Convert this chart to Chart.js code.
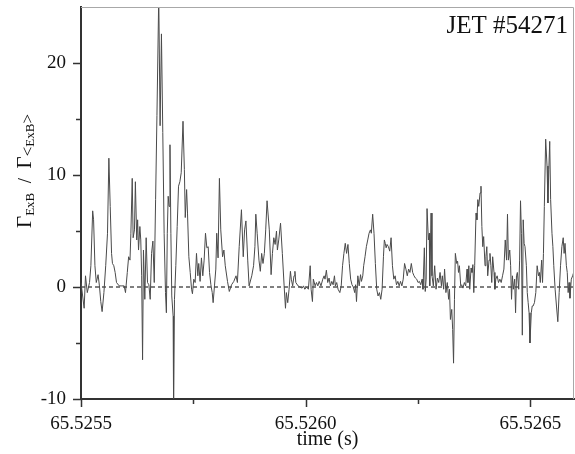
<!DOCTYPE html>
<html>
<head>
<meta charset="utf-8">
<title>JET #54271 flux ratio</title>
<script src="https://cdn.jsdelivr.net/npm/chart.js@4.4.1/dist/chart.umd.min.js"></script>
<style>
  html, body { margin: 0; padding: 0; background: #fff; }
  #wrap { width: 575px; height: 454px; }
</style>
</head>
<body>
<div id="wrap"><canvas id="flux" width="575" height="454"></canvas></div>
<script>
// time, as offset from 65.5255 s, in microseconds
const timeUs = [
  0, 7, 10, 14, 19, 22, 26, 28, 31, 34, 38, 41, 44, 47, 51, 55, 59, 62, 65, 68, 70, 73, 76, 79, 85,
  91, 96, 99, 103, 106, 109, 111, 114, 116, 119, 121, 124, 126, 128, 131, 133, 135, 137, 139, 142, 145, 148, 151, 154,
  157, 160, 163, 166, 169, 173, 176, 179, 182, 185, 188, 190, 192, 194, 196, 198, 200, 202, 205, 206, 208, 211, 214, 217,
  220, 223, 227, 230, 232, 235, 237, 240, 243, 246, 248, 251, 254, 257, 260, 262, 265, 268, 271, 274, 277, 280, 283, 286,
  289, 292, 294, 297, 300, 302, 305, 308, 311,
  315, 318, 321, 326, 330, 335, 340, 345, 348, 352, 357, 361, 364, 367, 371, 374, 380, 384, 387, 389, 392, 396, 399, 402,
  405, 408, 411, 414, 419, 423, 426, 429, 432, 435, 437, 440, 444, 448, 452, 455, 457, 460, 463, 466,
  468, 471, 474, 476, 478, 483, 487, 492, 495, 498, 502, 506, 510, 512, 515, 517, 521, 524, 527, 530, 534, 538, 541, 543,
  546, 549, 552, 555, 558, 561, 564, 566, 569, 572, 576, 579, 582, 585, 588, 591, 594, 597, 600, 603, 606, 609, 611, 613,
  616, 619, 622,
  624, 627, 629, 632, 635, 638, 641, 644, 646, 649, 652, 655, 658, 661, 664, 667, 670, 673, 675, 677, 679, 681, 684, 687,
  690, 693, 696, 699, 702, 705, 708, 711, 714, 717, 720, 723, 726, 729, 732, 735, 738, 741, 744, 747, 750, 753, 756, 759,
  761, 764, 766, 768, 770, 773, 775, 776, 779,
  781, 784, 787, 790, 793, 796, 799, 802, 804, 807, 809, 812, 815, 818, 820, 822, 825, 827, 829, 831, 833, 836, 838, 840,
  842, 845, 847, 850, 853, 856, 859, 861, 863, 865, 868, 870, 872, 874, 876, 879, 881, 883, 885, 888, 890, 892, 894, 896,
  899, 901, 903, 905, 908, 910, 912, 914, 916, 919, 921, 923, 926, 929, 932,
  935, 938, 941, 944, 947, 949, 951, 954, 956, 958, 960, 962, 965, 967, 969, 971, 974, 976, 978, 980, 982, 984, 986, 988,
  991, 993, 995, 997, 999, 1002, 1004, 1006, 1009, 1012, 1015, 1018, 1020, 1022, 1025, 1027, 1029, 1031, 1034, 1037, 1039,
  1041, 1043, 1045, 1048, 1050, 1052, 1055, 1058, 1061, 1064, 1067, 1070, 1073, 1075, 1077, 1080, 1082, 1084, 1086, 1088,
  1091, 1094, 1097
];

// Γ_ExB / Γ_<ExB> at each time above
const fluxRatio = [
  0.4, -1.9, 1.0, -0.5, 0.4, 1.9, 6.8, 6.0, 1.9, 0.4, 1.1, 0.1, -1.3, -2.2, -0.5, 1.9, 4.8, 11.5, 7.2, 3.0, 2.1, 1.9, 1.3, 0.4, 0.1,
  0.1, 0.1, -0.5, 1.3, 2.7, 2.4, 4.8, 9.7, 4.4, 5.1, 9.4, 4.2, 6.0, 3.3, 5.4, 4.2, 1.0, -6.5, 3.3, -1.1, 4.4, 0.4, 0.2, -1.1,
  3.0, 4.1, 0.4, 7.8, 15.3, 26, 14.4, 22.6, 13.8, 4.8, -0.5, -2.3, 4.8, 8.1, 7.2, 12.7, 4.8, -0.8, -2.6, -10.5, -1.1, 1.9, 5.4, 9.0,
  9.4, 10.2, 14.8, 10.5, 6.2, 8.7, 6.6, 2.7, 1.3, -0.2, -0.6, 0.7, 0.4, 3.0, 1.0, 2.1, 0.5, 2.6, 1.0, 2.4, 4.8, 3.5, 3.6, 1.3,
  0.2, -0.5, -1.4, 0.1, 1.6, 4.8, 2.6, 9.7, 5.1,
  2.7, 3.3, 1.9, 0.5, -0.4, 0.2, 0.5, 1.0, 0.4, 3.6, 6.9, 2.7, 5.1, 5.9, 2.4, 0.1, 1.0, 1.9, 3.6, 6.5, 4.8, 2.4, 1.4, 3.0,
  2.1, 3.0, 5.1, 7.7, 5.1, 1.1, 3.0, 4.4, 3.8, 5.0, 3.3, 4.2, 5.7, 3.0, 0.1, -1.9, -0.5, -1.4, -0.2, 1.4,
  0.7, 0.1, 1.0, 1.4, 0.4, 0.1, 0, -0.1, 0.1, -0.2, 0, -0.2, 1.9, -0.2, -1.3, 0.7, 0.1, 0.4, 0.1, 0.5, 0.1, 0.7, 1.0, 0.7,
  1.5, 0.4, 0.8, 0.1, 0.5, 0.2, 1.0, 0.1, 0.4, -0.2, -0.5, 0.1, 1.9, 3.0, 3.9, 3.0, 3.8, 2.1, 0.7, 0.2, 0, -0.5, 0.2, -1.3,
  1.0, 0.1, 1.1,
  0.5, 1.0, 1.9, 2.7, 3.6, 4.2, 4.8, 5.1, 4.8, 6.5, 4.8, 2.1, -0.2, -0.8, -0.5, -1.1, -0.2, 2.7, 4.2, 3.9, 3.5, 3.8, 3.6, 3.2,
  4.4, 1.9, 0.7, 1.0, 0.2, 0.5, 0.1, 0.5, 0.1, 0.7, 2.1, 1.6, 1.0, 1.6, 1.3, 2.1, 1.3, 1.0, 0.8, 0.7, 0.4, 0.5, 0.2, 0.7,
  -0.2, 3.5, -0.4, 0.7, 7.0, 4.2, 4.8, 0.1, 6.6,
  1.0, 0.1, 1.9, -0.2, 0.8, 0.4, 1.3, 0.1, 1.0, -0.2, 1.6, -0.5, 0.4, -1.1, -0.2, -2.9, -2.0, -3.8, -6.8, -1.1, 3.0, 2.1, 2.3, 1.3,
  1.9, 0.1, 0.2, -0.1, 0.4, 0.1, 1.6, 0.4, 1.9, -0.2, 1.7, 1.3, 2.0, -0.5, 1.9, 6.6, 6.0, 7.8, 7.2, 8.4, 9.0, 5.4, 3.6, 4.5,
  1.9, 2.7, 3.6, 1.0, 2.4, 3.0, 1.9, 0.4, 2.7, 1.3, -0.2, 0.7, 1.0, 0.4, 0.7,
  0.4, 1.0, 1.6, 4.2, 2.4, 6.5, 2.4, 3.3, 1.9, -1.1, 1.0, -0.2, 0.7, -2.3, 1.0, 1.3, -0.2, 2.4, 7.7, 4.8, -4.3, 6.0, 3.9, 3.6,
  1.9, -0.5, -1.4, -2.3, -5.0, -2.3, -1.7, -1.7, -1.4, -0.5, 1.9, 1.0, 1.3, 0.4, 2.4, 0.4, 3.0, 7.2, 13.2, 10.8, 7.5,
  10.5, 13.0, 7.8, 4.8, 3.6, 1.9, -0.2, -1.7, -3.1, -0.5, 1.9, 3.6, 4.4, 3.0, 3.9, 1.9, 1.3, -0.5, 0.4, -1.0,
  0.7, 1.0, 1.4
];

const T0 = 65.5255;          // s, left end of the time axis
const X_MAX = 1097;          // µs after T0
const Y_MIN = -10;
const Y_MAX = 25;
const shotLabel = 'JET #54271';
const xTitle = 'time (s)';
const SERIF = "'Liberation Serif', 'Times New Roman', serif";

const points = timeUs.map((t, i) => ({ x: t, y: fluxRatio[i] }));
const zeroLine = [{ x: 0, y: 0 }, { x: X_MAX, y: 0 }];

// keep the plot box fixed: no extra room reserved for edge labels
function fixBox(size) {
    return s => {
        if (s.isHorizontal()) s.height = size; else s.width = size;
        s.paddingTop = s.paddingBottom = s.paddingLeft = s.paddingRight = 0;
    };
}

// frame, outward tick marks, rotated y title with subscripts and the shot label
const decorations = {
    id: 'decorations',
    afterDraw(chart) {
        const { ctx, chartArea: a, scales: { x, y } } = chart;
        ctx.save();

        ctx.strokeStyle = '#a8a8a8';
        ctx.lineWidth = 1;
        ctx.beginPath();
        ctx.moveTo(a.left, a.top + 0.5);
        ctx.lineTo(a.right - 0.5, a.top + 0.5);
        ctx.lineTo(a.right - 0.5, a.bottom);
        ctx.stroke();

        ctx.strokeStyle = '#333';
        ctx.lineWidth = 1.5;
        ctx.beginPath();
        x.ticks.forEach(t => {
            if (t.value >= X_MAX) return;
            const px = Math.round(x.getPixelForValue(t.value)) + 0.5;
            const len = t.value % 500 === 0 ? 8 : 5;
            ctx.moveTo(px, a.bottom);
            ctx.lineTo(px, a.bottom + len);
        });
        y.ticks.forEach(t => {
            if (t.value >= Y_MAX) return;
            const py = Math.round(y.getPixelForValue(t.value)) + 0.5;
            const len = t.value % 10 === 0 ? 8 : 5;
            ctx.moveTo(a.left, py);
            ctx.lineTo(a.left - len, py);
        });
        ctx.stroke();

        // Γ_ExB / Γ_<ExB>
        const parts = [
            { s: 'Γ', size: 21, dy: 0 },
            { s: 'ExB', size: 13, dy: 3 },
            { s: '  /  ', size: 19, dy: 0 },
            { s: 'Γ', size: 21, dy: 0 },
            { s: '<', size: 17, dy: 2 },
            { s: 'ExB', size: 13, dy: 3 },
            { s: '>', size: 17, dy: 2 }
        ];
        let total = 0;
        parts.forEach(p => {
            ctx.font = `${p.size}px ${SERIF}`;
            p.w = ctx.measureText(p.s).width;
            total += p.w;
        });
        ctx.translate(31, 171);
        ctx.rotate(-Math.PI / 2);
        ctx.fillStyle = '#111';
        ctx.textBaseline = 'alphabetic';
        ctx.textAlign = 'left';
        let cx = -total / 2;
        parts.forEach(p => {
            ctx.font = `${p.size}px ${SERIF}`;
            ctx.fillText(p.s, cx, p.dy);
            cx += p.w;
        });
        ctx.setTransform(1, 0, 0, 1, 0, 0);

        ctx.font = `25px ${SERIF}`;
        ctx.textAlign = 'right';
        ctx.fillStyle = '#111';
        ctx.fillText(shotLabel, 568, 33);
        ctx.restore();
    }
};

const tickFont = { family: SERIF, size: 19 };

new Chart(document.getElementById('flux'), {
    type: 'line',
    data: {
        datasets: [
            {
                data: points,
                borderColor: '#4a4a4a',
                borderWidth: 1,
                pointRadius: 0,
                tension: 0,
                order: 0
            },
            {
                data: zeroLine,
                borderColor: '#000',
                borderWidth: 1,
                borderDash: [4, 3],
                pointRadius: 0,
                order: 1
            }
        ]
    },
    options: {
        responsive: false,
        animation: false,
        devicePixelRatio: 1,
        layout: { padding: { top: 7, right: 1, left: 0, bottom: 0 } },
        plugins: { legend: { display: false }, tooltip: { enabled: false } },
        scales: {
            x: {
                type: 'linear',
                min: 0,
                max: X_MAX,
                afterFit: fixBox(55),
                grid: { display: false, drawTicks: false, tickLength: 0 },
                border: { display: true, color: '#333', width: 2 },
                ticks: {
                    stepSize: 250,
                    includeBounds: false,
                    autoSkip: false,
                    maxRotation: 0,
                    padding: 14,
                    color: '#111',
                    font: tickFont,
                    callback: v => v % 500 === 0 ? (T0 + v / 1e6).toFixed(4) : ''
                },
                title: {
                    display: true,
                    text: xTitle,
                    color: '#111',
                    font: { family: SERIF, size: 20 },
                    padding: { top: 0, bottom: 2 }
                }
            },
            y: {
                min: Y_MIN,
                max: Y_MAX,
                afterFit: fixBox(81),
                grid: { display: false, drawTicks: false, tickLength: 0 },
                border: { display: true, color: '#333', width: 2 },
                ticks: {
                    stepSize: 5,
                    includeBounds: false,
                    autoSkip: false,
                    padding: 15,
                    color: '#111',
                    font: tickFont,
                    callback: v => v % 10 === 0 ? String(v) : ''
                }
            }
        }
    },
    plugins: [decorations]
});
</script>
</body>
</html>
